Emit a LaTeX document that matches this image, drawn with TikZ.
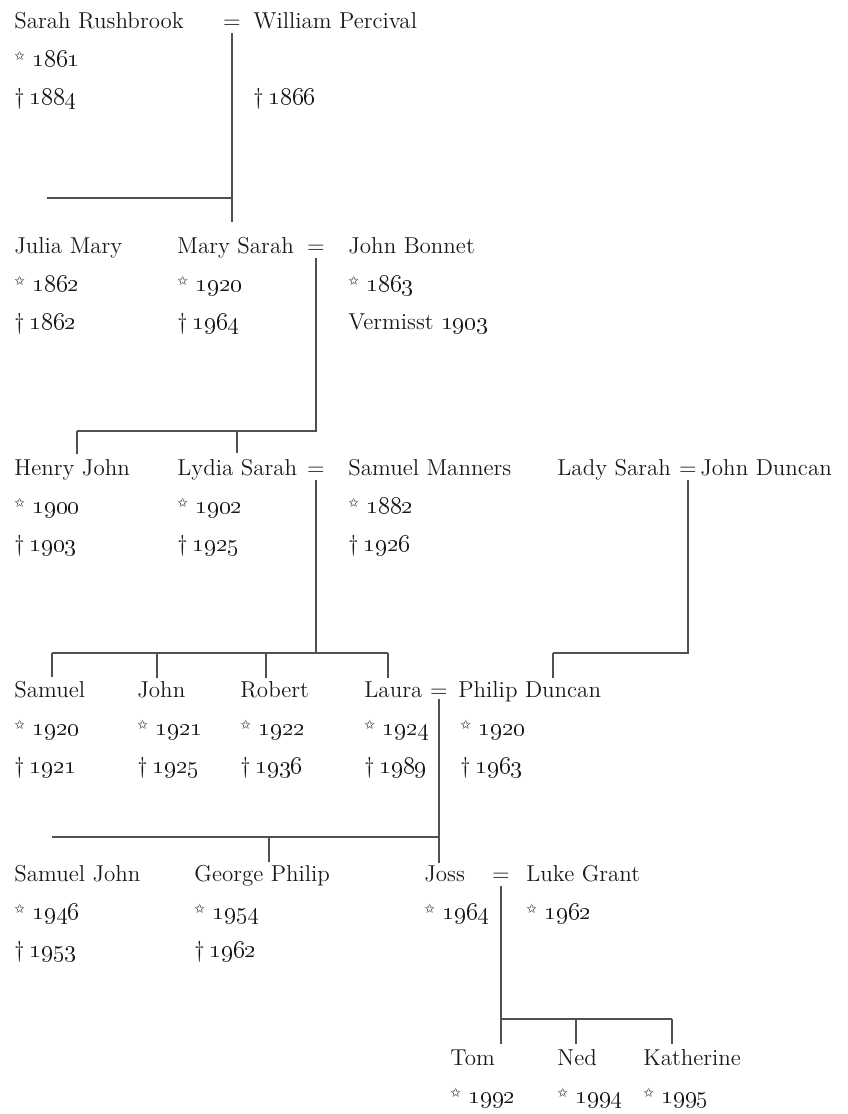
\documentclass[tikz,border=0pt]{standalone}
\usepackage{pifont}
\definecolor{treeline}{RGB}{80,80,80}
\definecolor{treetext}{RGB}{25,25,25}
\newcommand{\born}[1]{\raisebox{.6ex}{\fontsize{6.5}{7}\selectfont\ding{73}}\ \oldstylenums{#1}}
\newcommand{\died}[1]{\textdagger\hspace{2.5pt}\oldstylenums{#1}}

\begin{document}
\begin{tikzpicture}[x=0.5pt,y=-0.5pt,
    person/.style={anchor=base west,inner sep=0pt,text=treetext,font=\fontsize{11.5}{14}\selectfont},
    life/.style={person},
    marriage/.style={anchor=base,inner sep=0pt,text=treetext,font=\fontsize{11.5}{14}\selectfont},
    link/.style={draw=treeline,line width=1.1pt}]
  \useasboundingbox (0,0) rectangle (847,1114);

  % Sarah Rushbrook = William Percival
  \node[person] (rushbrook) at (14,28) {Sarah Rushbrook};
  \node[life] (rushbrook-b) at (14,66) {\born{1861}};
  \node[life] (rushbrook-d) at (14,104) {\died{1884}};
  \node[marriage] (eq1) at (232,28) {=};
  \node[person] (percival) at (253,28) {William Percival};
  \node[life] (percival-d) at (253,104) {\died{1866}};

  % second generation
  \node[person] (julia) at (14,253) {Julia Mary};
  \node[life] (julia-b) at (14,291) {\born{1862}};
  \node[life] (julia-d) at (14,329) {\died{1862}};
  \node[person] (marysarah) at (177,253) {Mary Sarah};
  \node[life] (marysarah-b) at (177,291) {\born{1920}};
  \node[life] (marysarah-d) at (177,329) {\died{1964}};
  \node[marriage] (eq2) at (316,253) {=};
  \node[person] (bonnet) at (348,253) {John Bonnet};
  \node[life] (bonnet-b) at (348,291) {\born{1863}};
  \node[life] (bonnet-d) at (348,329) {Vermisst \oldstylenums{1903}};

  % third generation
  \node[person] (henry) at (14,475) {Henry John};
  \node[life] (henry-b) at (14,513) {\born{1900}};
  \node[life] (henry-d) at (14,551) {\died{1903}};
  \node[person] (lydia) at (177,475) {Lydia Sarah};
  \node[life] (lydia-b) at (177,513) {\born{1902}};
  \node[life] (lydia-d) at (177,551) {\died{1925}};
  \node[marriage] (eq3) at (316,475) {=};
  \node[person] (manners) at (348,475) {Samuel Manners};
  \node[life] (manners-b) at (348,513) {\born{1882}};
  \node[life] (manners-d) at (348,551) {\died{1926}};
  \node[person] (ladysarah) at (557,475) {Lady Sarah};
  \node[marriage] (eq4) at (688,475) {=};
  \node[person] (jduncan) at (700,475) {John Duncan};

  % fourth generation
  \node[person] (samuel) at (14,697) {Samuel};
  \node[life] (samuel-b) at (14,735) {\born{1920}};
  \node[life] (samuel-d) at (14,773) {\died{1921}};
  \node[person] (john) at (137,697) {John};
  \node[life] (john-b) at (137,735) {\born{1921}};
  \node[life] (john-d) at (137,773) {\died{1925}};
  \node[person] (robert) at (240,697) {Robert};
  \node[life] (robert-b) at (240,735) {\born{1922}};
  \node[life] (robert-d) at (240,773) {\died{1936}};
  \node[person] (laura) at (364,697) {Laura};
  \node[life] (laura-b) at (364,735) {\born{1924}};
  \node[life] (laura-d) at (364,773) {\died{1989}};
  \node[marriage] (eq5) at (439,697) {=};
  \node[person] (philip) at (458,697) {Philip Duncan};
  \node[life] (philip-b) at (460,735) {\born{1920}};
  \node[life] (philip-d) at (460,773) {\died{1963}};

  % fifth generation
  \node[person] (samueljohn) at (14,881) {Samuel John};
  \node[life] (samueljohn-b) at (14,919) {\born{1946}};
  \node[life] (samueljohn-d) at (14,957) {\died{1953}};
  \node[person] (george) at (194,881) {George Philip};
  \node[life] (george-b) at (194,919) {\born{1954}};
  \node[life] (george-d) at (194,957) {\died{1962}};
  \node[person] (joss) at (424,881) {Joss};
  \node[life] (joss-b) at (424,919) {\born{1964}};
  \node[marriage] (eq6) at (501,881) {=};
  \node[person] (luke) at (526,881) {Luke Grant};
  \node[life] (luke-b) at (526,919) {\born{1962}};

  % sixth generation
  \node[person] (tom) at (450,1065) {Tom};
  \node[life] (tom-b) at (450,1103) {\born{1992}};
  \node[person] (ned) at (557,1065) {Ned};
  \node[life] (ned-b) at (557,1103) {\born{1994}};
  \node[person] (katherine) at (643,1065) {Katherine};
  \node[life] (katherine-b) at (643,1103) {\born{1995}};

  % bar positions
  \coordinate (c-julia) at (47,198);
  \coordinate (c-marysarah) at (232,198);
  \coordinate (c-henry) at (77,431);
  \coordinate (c-lydia) at (237,431);
  \coordinate (c-samuel) at (52,653);
  \coordinate (c-john) at (157,653);
  \coordinate (c-robert) at (266,653);
  \coordinate (c-laura) at (388,653);
  \coordinate (c-philip) at (553,653);
  \coordinate (c-samueljohn) at (52,837);
  \coordinate (c-george) at (269,837);
  \coordinate (c-joss) at (439,837);
  \coordinate (c-tom) at (501,1019);
  \coordinate (c-ned) at (576,1019);
  \coordinate (c-katherine) at (672,1019);

  % connectors
  \draw[link] (c-julia) -- (c-marysarah);
  \draw[link,shorten <=2.5pt,shorten >=7pt] (eq1.south) -- (c-marysarah) -- (c-marysarah |- marysarah.north);

  \draw[link,shorten <=2.5pt] (eq2.south) |- (c-henry);
  \foreach \c in {henry,lydia}
    \draw[link,shorten >=2.5pt] (c-\c) -- (c-\c |- \c.north);

  \draw[link] (c-samuel) -- (c-laura);
  \draw[link,shorten <=2.5pt] (eq3.south) -- (eq3.south |- c-samuel);
  \foreach \c in {samuel,john,robert,laura}
    \draw[link,shorten >=1.5pt] (c-\c) -- (c-\c |- \c.north);

  \draw[link,shorten <=2.5pt] (eq4.south) |- (c-philip);
  \draw[link,shorten >=1.5pt] (c-philip) -- (c-philip |- philip.north);

  \draw[link] (c-samueljohn) -- (c-joss);
  \draw[link,shorten <=1pt,shorten >=1pt] (eq5.south) -- (eq5.south |- joss.north);
  \draw[link,shorten >=1pt] (c-george) -- (c-george |- george.north);

  \draw[link] (c-tom) -- (c-katherine);
  \draw[link,shorten <=2.5pt,shorten >=2.5pt] (eq6.south) -- (eq6.south |- tom.north);
  \foreach \c in {ned,katherine}
    \draw[link,shorten >=2.5pt] (c-\c) -- (c-\c |- \c.north);
\end{tikzpicture}
\end{document}
